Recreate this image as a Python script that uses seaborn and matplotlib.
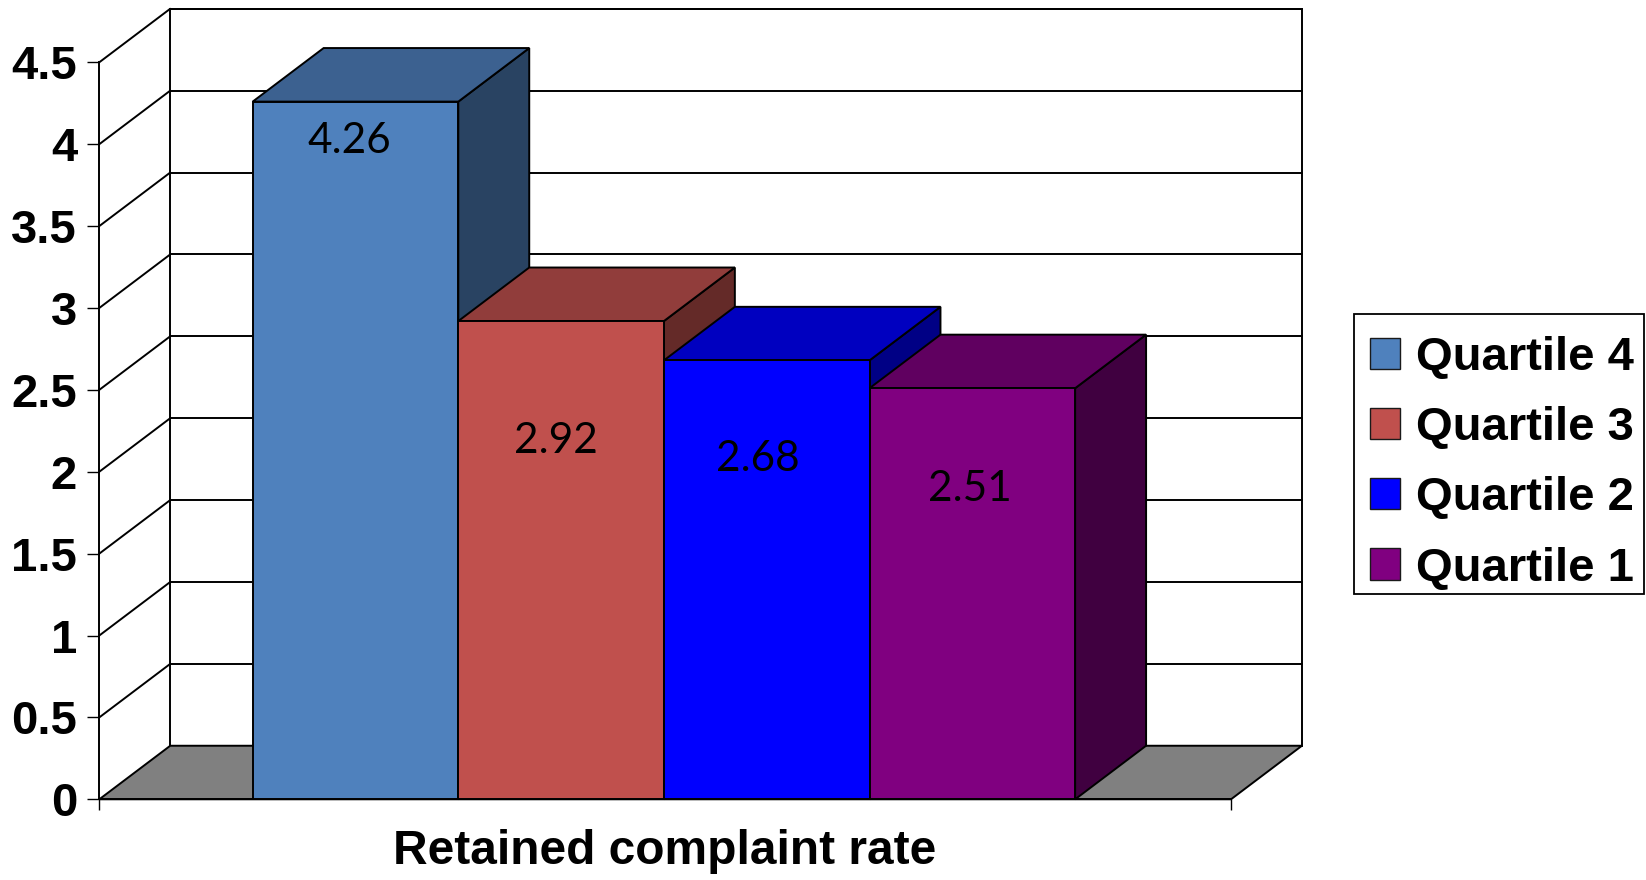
import matplotlib
matplotlib.use("Agg")
import matplotlib.pyplot as plt
from matplotlib.patches import Patch, Polygon, Rectangle
import pandas as pd
import seaborn as sns

# Data
quartiles = ["Quartile 4", "Quartile 3", "Quartile 2", "Quartile 1"]
complaint_rate = [4.26, 2.92, 2.68, 2.51]
y_ticks = [0, 0.5, 1, 1.5, 2, 2.5, 3, 3.5, 4, 4.5]
x_title = "Retained complaint rate"

# Face colours: front, top (shaded), side (darker)
front_colors = ["#4F81BD", "#C0504D", "#0000FF", "#800080"]
top_colors = ["#3C6190", "#913D3B", "#0000C0", "#600060"]
side_colors = ["#294362", "#642A28", "#000085", "#400040"]

# Value label placement (offset from bar centre, baseline height)
label_dx = [-0.03, -0.023, -0.041, -0.012]
label_base = [3.948, 2.112, 2.006, 1.823]

sns.set_theme(style="white")
plt.rcParams["font.family"] = ["Liberation Sans", "DejaVu Sans"]

W, H = 1646, 880
fig = plt.figure(figsize=(W / 100, H / 100), dpi=100)
fig.patch.set_facecolor("white")

X0, X1 = -1.246, 4.258
Y0, Y1 = 0.0, 4.5
left_px, right_px = 99.3, 1231.0
bottom_px, top_px = 799.3, 62.3
ax = fig.add_axes([left_px / W, 1 - bottom_px / H,
                   (right_px - left_px) / W, (bottom_px - top_px) / H])
ax.set_facecolor("none")

DX, DY = 0.345, 0.327   # depth of the 3-D box in data units
LW = 1.4

df = pd.DataFrame({"quartile": quartiles, "rate": complaint_rate})
sns.barplot(data=df, x="quartile", y="rate", hue="quartile",
            order=quartiles, hue_order=quartiles, palette=front_colors,
            width=1.0, dodge=False, legend=False, saturation=1,
            edgecolor="black", linewidth=LW, ax=ax)
bars = [p for p in ax.patches if p.get_height() > 0]

ax.set_xlim(X0, X1)
ax.set_ylim(Y0, Y1)

# back wall with gridlines, side wall diagonals, floor
wall = Polygon([(X0 + DX, DY), (X0 + DX, Y1 + DY), (X1 + DX, Y1 + DY), (X1 + DX, DY)],
               closed=True, facecolor="white", edgecolor="black", lw=LW,
               clip_on=False, zorder=0.5)
ax.add_patch(wall)
for v in y_ticks[1:]:
    ax.plot([X0, X0 + DX], [v, v + DY], color="black", lw=LW, clip_on=False, zorder=1)
    ax.plot([X0 + DX, X1 + DX], [v + DY, v + DY], color="black", lw=LW,
            clip_on=False, zorder=1)
floor = Polygon([(X0, 0), (X0 + DX, DY), (X1 + DX, DY), (X1, 0)], closed=True,
                facecolor="#808080", edgecolor="black", lw=LW, clip_on=False, zorder=1.5)
ax.add_patch(floor)

# 3-D top and side faces of each bar
for r in bars:
    x, w, h = r.get_x(), r.get_width(), r.get_height()
    i = int(round(x + w / 2))
    base = 3 + 3 * i
    side = Polygon([(x + w, 0), (x + w + DX, DY), (x + w + DX, h + DY), (x + w, h)],
                   closed=True, facecolor=side_colors[i], edgecolor="black", lw=LW,
                   clip_on=False, zorder=base)
    top = Polygon([(x, h), (x + DX, h + DY), (x + w + DX, h + DY), (x + w, h)],
                  closed=True, facecolor=top_colors[i], edgecolor="black", lw=LW,
                  clip_on=False, zorder=base + 1)
    ax.add_patch(side)
    ax.add_patch(top)
    r.set_zorder(base + 2)
    ax.text(i + label_dx[i], label_base[i], f"{complaint_rate[i]:.2f}",
            ha="center", va="baseline", fontsize=30.5,
            family=["Lato", "DejaVu Sans"], color="black", zorder=30)

# axes, ticks
ax.set_yticks(y_ticks)
ax.set_yticklabels([f"{v:g}" for v in y_ticks], fontsize=34, fontweight="bold",
                   color="black")
ax.tick_params(axis="y", direction="out", length=9, width=1.0, pad=7,
               color="black", left=True)
ax.set_xticks([X0, X1])
ax.set_xticklabels(["", ""])
ax.tick_params(axis="x", direction="out", length=8, width=1.0, color="black",
               bottom=True)
ax.set_xlabel("")
ax.set_ylabel("")
for s in ["top", "right"]:
    ax.spines[s].set_visible(False)
for s in ["left", "bottom"]:
    ax.spines[s].set_color("black")
    ax.spines[s].set_linewidth(LW)
    ax.spines[s].set_zorder(2)

fig.text(665 / W, 1 - 864 / H, x_title, ha="center", va="baseline",
         fontsize=34.5, fontweight="bold", color="black")

# legend: box drawn as its own frame, entries placed inside it
legend_box = Rectangle((1354 / W, 1 - 593.6 / H), 290 / W, 280 / H,
                       transform=fig.transFigure, facecolor="white",
                       edgecolor="black", lw=1.3, zorder=1)
fig.add_artist(legend_box)
handles = [Patch(facecolor=c, edgecolor="#1a1a1a", lw=1.0) for c in front_colors]
leg = fig.legend(handles, quartiles, loc="upper left",
                 bbox_to_anchor=(1352 / W, 1 - 318 / H),
                 bbox_transform=fig.transFigure, borderaxespad=0,
                 frameon=False,
                 prop={"family": "Liberation Sans", "weight": "bold", "size": 34},
                 handlelength=0.64, handleheight=0.64, handletextpad=0.33,
                 labelspacing=0.555, borderpad=0.38)
leg.set_zorder(5)
for t in leg.get_texts():
    t.set_color("black")

fig.savefig("out.png", dpi=100, facecolor="white")
